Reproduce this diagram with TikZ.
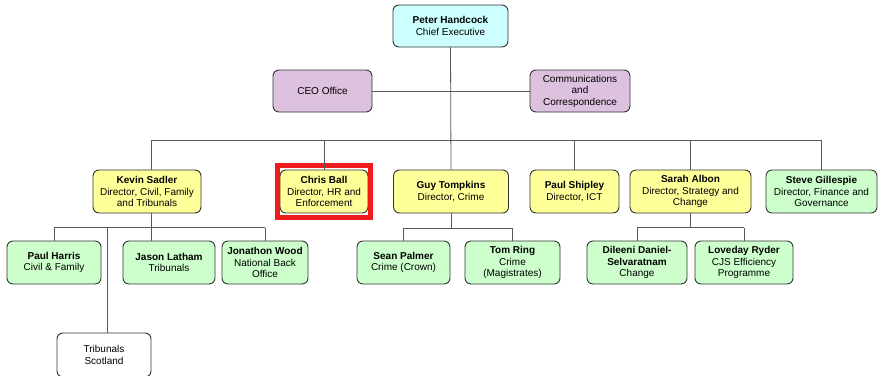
\documentclass[tikz,border=0pt]{standalone}
\usepackage{fontspec}
\setmainfont{Liberation Sans}
\usepackage{xcolor}
\usetikzlibrary{positioning, fit}

\definecolor{chiefcyan}{HTML}{CCFFFF}
\definecolor{officemauve}{HTML}{DCC2DE}
\definecolor{dirYellow}{HTML}{FFFF99}
\definecolor{teamGreen}{HTML}{CCFFCC}
\definecolor{markRed}{HTML}{EE1C1C}

\tikzset{
  post/.style={draw=black!80, line width=0.9pt, rounded corners=6pt,
    align=center, inner sep=0pt, minimum height=43pt,
    font=\fontsize{10}{11.5}\selectfont},
  link/.style={draw=black!65, line width=0.8pt},
  hilite/.style={draw=markRed, line width=5pt, inner xsep=2.5pt, inner ysep=4pt},
}

\begin{document}
\begin{tikzpicture}[x=1pt,y=-1pt]
      \useasboundingbox (0,0) rectangle (878,375);
      \clip (0,0) rectangle (878,375);

      % top
      \node[post, fill=chiefcyan, minimum width=115pt, minimum height=42pt] (peter) at (450.5,26) {\textbf{Peter Handcock}\\Chief Executive};
      \node[post, fill=officemauve, minimum width=99pt, minimum height=42pt] (ceo) at (322.5,91) {CEO Office};
      \node[post, fill=officemauve, minimum width=100pt, minimum height=42pt] (comms) at (580,91) {Communications\\and\\Correspondence};

      % directors
      \node[post, fill=dirYellow, minimum width=108pt] (kevin) at (147,191.5) {\textbf{Kevin Sadler}\\Director, Civil, Family\\and Tribunals};
      \node[post, fill=dirYellow, minimum width=88pt] (chris) at (324,191.5) {\textbf{Chris Ball}\\Director, HR and\\Enforcement};
      \node[post, fill=dirYellow, minimum width=115pt] (guy) at (451,191.5) {\textbf{Guy Tompkins}\\Director, Crime};
      \node[post, fill=dirYellow, minimum width=89pt] (shipley) at (574.5,191.5) {\textbf{Paul Shipley}\\Director, ICT};
      \node[post, fill=dirYellow, minimum width=121pt] (sarah) at (690.5,191.5) {\textbf{Sarah Albon}\\Director, Strategy and\\Change};
      \node[post, fill=teamGreen, minimum width=111pt] (steve) at (821.5,191.5) {\textbf{Steve Gillespie}\\Director, Finance and\\Governance};
      \node[hilite, fit=(chris)] (chrismark) {};

      % teams
      \node[post, fill=teamGreen, minimum width=94pt] (harris) at (54,262.5) {\textbf{Paul Harris}\\Civil \& Family};
      \node[post, fill=teamGreen, minimum width=92pt] (jason) at (169,262.5) {\textbf{Jason Latham}\\Tribunals};
      \node[post, fill=teamGreen, minimum width=86pt] (wood) at (265,262.5) {\textbf{Jonathon Wood}\\National Back\\Office};
      \node[post, fill=white, minimum width=94pt, minimum height=44pt] (scotland) at (104,355) {Tribunals\\Scotland};
      \node[post, fill=teamGreen, minimum width=93pt] (sean) at (403.5,262.5) {\textbf{Sean Palmer}\\Crime (Crown)};
      \node[post, fill=teamGreen, minimum width=95pt] (tom) at (512.5,262.5) {\textbf{Tom Ring}\\Crime\\(Magistrates)};
      \node[post, fill=teamGreen, minimum width=100pt] (dileeni) at (637,262.5) {\textbf{Dileeni Daniel-}\\\textbf{Selvaratnam}\\Change};
      \node[post, fill=teamGreen, minimum width=98pt] (loveday) at (744,262.5) {\textbf{Loveday Ryder}\\CJS Efficiency\\Programme};

      % bus lines
      \coordinate (bus) at (0,140);
      \coordinate (kbus) at (151,227.5);
      \coordinate (gbus) at (0,228);
      \coordinate (sbus) at (0,227.5);
      \coordinate (tdrop) at (107.5,0);

      % peter to guy
      \draw[link] (peter.south) -- (guy.north);
      % ceo to comms
      \draw[link] (ceo.east) -- (comms.west);
      % bus across the directors
      \draw[link] (kbus |- bus) -- (steve.north |- bus);
      \draw[link] (kbus |- bus) -- (kbus |- kevin.north);
      \draw[link] (chris.north |- bus) -- (chris.north);
      \draw[link] (shipley.north |- bus) -- (shipley.north);
      \draw[link] (sarah.north |- bus) -- (sarah.north);
      \draw[link] (steve.north |- bus) -- (steve.north);

      % kevin to his teams
      \draw[link] (kbus |- kevin.south) -- (kbus |- jason.north);
      \draw[link] (harris.north |- kbus) -- (wood.north |- kbus);
      \draw[link] (harris.north |- kbus) -- (harris.north);
      \draw[link] (wood.north |- kbus) -- (wood.north);
      \draw[link] (tdrop |- kbus) -- (tdrop |- scotland.north);

      % guy to his teams
      \draw[link] (guy.south) -- (guy.south |- gbus);
      \draw[link] (sean.north |- gbus) -- (tom.north |- gbus);
      \draw[link] (sean.north |- gbus) -- (sean.north);
      \draw[link] (tom.north |- gbus) -- (tom.north);

      % sarah to her teams
      \draw[link] (sarah.south) -- (sarah.south |- sbus);
      \draw[link] (dileeni.north |- sbus) -- (loveday.north |- sbus);
      \draw[link] (dileeni.north |- sbus) -- (dileeni.north);
      \draw[link] (loveday.north |- sbus) -- (loveday.north);
    \end{tikzpicture}
\end{document}
